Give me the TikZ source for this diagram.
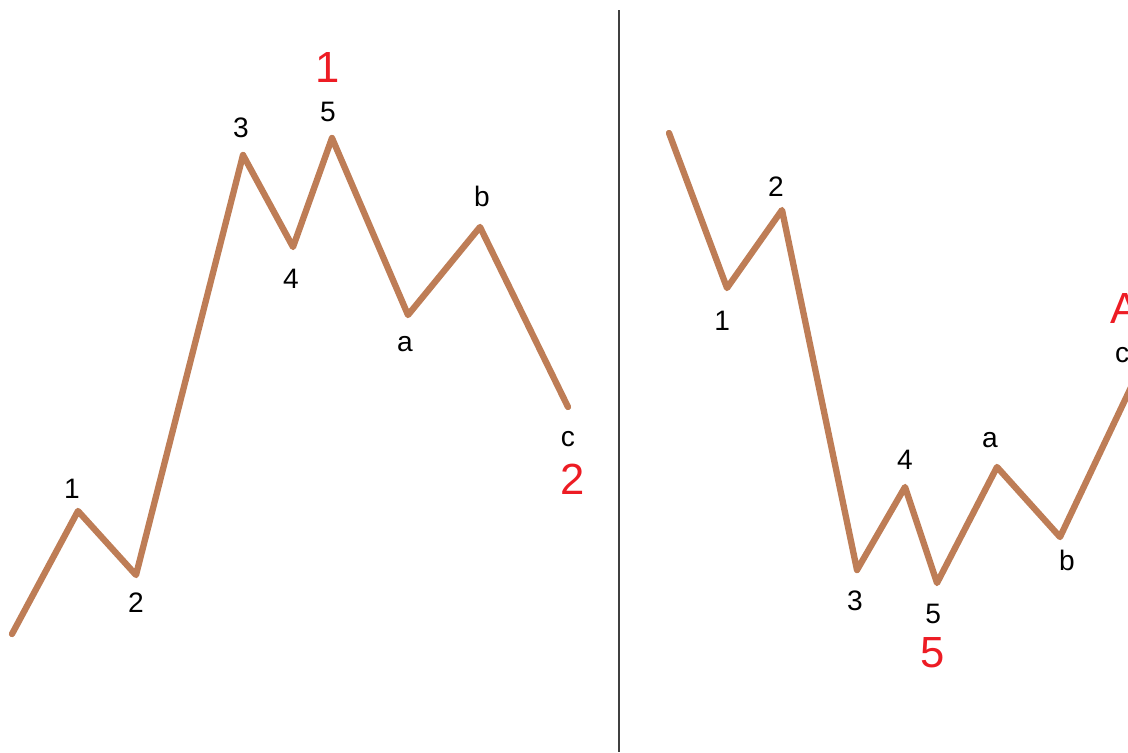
\documentclass[tikz,border=0pt]{standalone}
\usepackage{fontspec}
\setmainfont{Liberation Sans}
\usepackage{xcolor}
\usetikzlibrary{positioning}
\definecolor{wavebrown}{RGB}{190,125,86}
\definecolor{wavered}{RGB}{237,28,36}
\tikzset{
  wave/.style={line width=4.5pt, wavebrown, line join=round, line cap=round},
  lbl/.style={inner sep=0pt, font=\fontsize{20}{23}\selectfont},
  deg/.style={inner sep=0pt, text=wavered, font=\fontsize{31}{36}\selectfont},
}
\begin{document}
\begin{tikzpicture}[x=0.025cm, y=-0.025cm]
  % frame 1128 x 752 px
  \useasboundingbox (0,0) rectangle (1128,752);
  \clip (0,0) rectangle (1128,752);
  % divider
  \coordinate (dtop) at (619,10);
  \coordinate (dbot) at (619,752);
  \draw[line width=1.3pt, black!75] (dtop) -- (dbot);
  % left: impulse up, then a-b-c down
  \coordinate (w0) at (12,634);
  \coordinate (w1) at (78,511);
  \coordinate (w2) at (136,575);
  \coordinate (w3) at (243,155);
  \coordinate (w4) at (293,247);
  \coordinate (w5) at (332,138);
  \coordinate (wa) at (408,315);
  \coordinate (wb) at (480,227);
  \coordinate (wc) at (568,407);
  \draw[wave] (w0) -- (w1) -- (w2) -- (w3) -- (w4) -- (w5) -- (wa) -- (wb) -- (wc);
  % right: impulse down, then a-b-c up
  \coordinate (v0) at (669,133);
  \coordinate (v1) at (727,288);
  \coordinate (v2) at (782,210);
  \coordinate (v3) at (857,570);
  \coordinate (v4) at (905,487);
  \coordinate (v5) at (937,583);
  \coordinate (va) at (997,467);
  \coordinate (vb) at (1060,537);
  \coordinate (vc) at (1134,381);
  \draw[wave] (v0) -- (v1) -- (v2) -- (v3) -- (v4) -- (v5) -- (va) -- (vb) -- (vc);
  % wave labels, left
  \node[lbl, above=8.9pt of w1, xshift=-4.3pt] (tw1) {1};
  \node[lbl, below=12.4pt of w2] (tw2) {2};
  \node[lbl, above=11.7pt of w3, xshift=-1.4pt] (tw3) {3};
  \node[lbl, below=15.3pt of w4, xshift=-1.4pt] (tw4) {4};
  \node[lbl, above=11pt of w5, xshift=-2.8pt] (tw5) {5};
  \node[lbl, below=14.8pt of wa, xshift=-2.1pt] (twa) {a};
  \node[lbl, above=14.4pt of wb, xshift=1.4pt] (twb) {b};
  \node[lbl, below=17pt of wc] (twc) {c};
  \node[deg, above=14.1pt of tw5] (big1) {1};
  \node[deg, below=12.3pt of twc, xshift=3.5pt] (big2) {2};
  % wave labels, right
  \node[lbl, below=16pt of v1, xshift=-3.5pt] (tv1) {1};
  \node[lbl, above=9.6pt of v2, xshift=-4.3pt] (tv2) {2};
  \node[lbl, below=14.6pt of v3, xshift=-1.4pt] (tv3) {3};
  \node[lbl, above=12.4pt of v4] (tv4) {4};
  \node[lbl, below=14.6pt of v5, xshift=-2.8pt] (tv5) {5};
  \node[lbl, above=13.4pt of va, xshift=-5pt] (tva) {a};
  \node[lbl, below=9.4pt of vb, xshift=5pt] (tvb) {b};
  \node[lbl, above=12.7pt of vc, xshift=-8.5pt] (tvc) {c};
  \node[deg, below=9.9pt of tv5] (big5) {5};
  \node[deg, above=16.5pt of tvc, xshift=2pt] (bigA) {A};
\end{tikzpicture}
\end{document}
